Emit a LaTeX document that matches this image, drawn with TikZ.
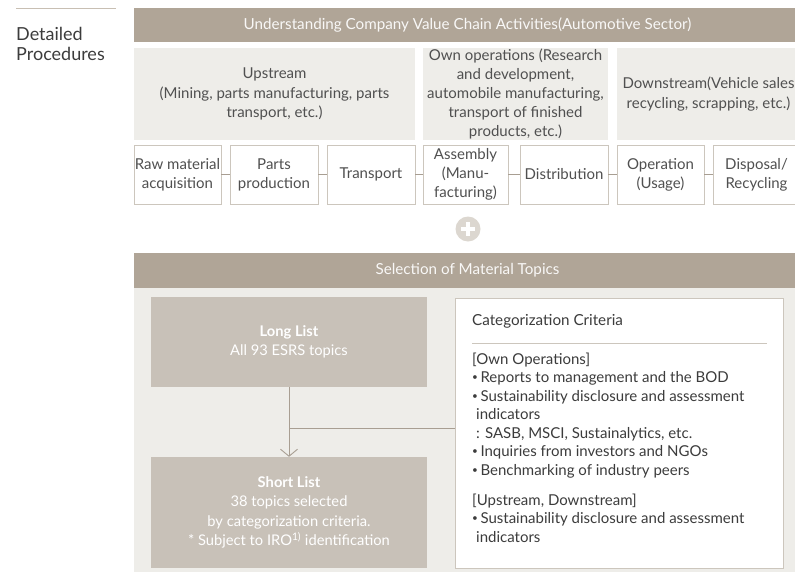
\documentclass[tikz,border=0pt]{standalone}
\usepackage{fontspec}
\setmainfont{Lato}
\usetikzlibrary{arrows.meta}
\definecolor{barc}{HTML}{B0A597}
\definecolor{lightbg}{HTML}{EEEDE9}
\definecolor{listc}{HTML}{C8C1B8}
\definecolor{bordc}{HTML}{CCC6BD}
\definecolor{txtc}{HTML}{505050}
\definecolor{darktxt}{HTML}{3C3C3C}
\definecolor{linec}{HTML}{A89E92}
\definecolor{plusc}{HTML}{DCD7D0}
\definecolor{barline}{HTML}{C8BFB3}
\newcommand{\bul}{\raisebox{2pt}{\fontsize{10}{10}\selectfont•}\kern2.5pt}
\begin{document}
\begin{tikzpicture}[x=1pt,y=-1pt,
  bar/.style={fill=barc, draw=none, inner sep=0pt, text=white!92!barc,
    font=\fontsize{15.2}{18}\selectfont},
  graybox/.style={fill=lightbg, draw=none, inner sep=0pt, text=txtc, align=center,
    font=\fontsize{15}{19.5}\selectfont},
  smallbox/.style={draw=bordc, fill=white, line width=0.9pt, inner sep=0pt, text=txtc,
    align=center, minimum height=59pt, font=\fontsize{15}{19}\selectfont},
  listbox/.style={fill=listc, draw=none, inner sep=0pt, text=white, align=center,
    minimum width=276pt, font=\fontsize{14.7}{19.3}\selectfont},
  link/.style={draw=linec, line width=0.9pt},
  txt/.style={inner sep=0pt, text=darktxt, align=left}
]
\useasboundingbox (0,0) rectangle (795,573);
\clip (0,0) rectangle (795,573);

% left heading
\coordinate (hl1) at (16,8.5);
\coordinate (hl2) at (116,8.5);
\draw[draw=barline, line width=1.2pt] (hl1) -- (hl2);
\node[txt, anchor=west, font=\fontsize{18}{20.5}\selectfont] (head) at (16,44) {Detailed\\Procedures};

% top bar
\node[bar, minimum width=667pt, minimum height=34pt] (title) at (467.5,25)
  {Understanding Company Value Chain Activities(Automotive Sector)};

% gray stages
\node[graybox, minimum width=281pt, minimum height=92pt] (up) at (274.5,94)
  {Upstream\\(Mining, parts manufacturing, parts\\transport, etc.)};
\node[graybox, minimum width=185pt, minimum height=92pt, font=\fontsize{15}{18.8}\selectfont] (own) at (515.5,94)
  {Own operations (Research\\and development,\\automobile manufacturing,\\transport of finished\\products, etc.)};
\node[graybox, minimum width=183pt, minimum height=92pt] (down) at (708.5,94)
  {Downstream(Vehicle sales\\recycling, scrapping, etc.)};

% small boxes
\node[smallbox, minimum width=87pt] (raw) at (177.5,174.5) {Raw material\\acquisition};
\node[smallbox, minimum width=88pt] (parts) at (274,174.5) {Parts\\production};
\node[smallbox, minimum width=88pt] (trans) at (371,174.5) {Transport};
\node[smallbox, minimum width=85pt] (asm) at (465.5,174.5) {Assembly\\(Manu-\\facturing)};
\node[smallbox, minimum width=88pt] (dist) at (564,174.5) {Distribution};
\node[smallbox, minimum width=87pt] (oper) at (660.5,174.5) {Operation\\(Usage)};
\node[smallbox, minimum width=87pt] (disp) at (756.5,174.5) {Disposal/\\Recycling};
\draw[link] (raw.east) -- (parts.west);
\draw[link] (parts.east) -- (trans.west);
\draw[link] (trans.east) -- (asm.west);
\draw[link] (asm.east) -- (dist.west);
\draw[link] (dist.east) -- (oper.west);
\draw[link] (oper.east) -- (disp.west);

% plus
\node[circle, fill=plusc, minimum size=25pt, inner sep=0pt] (plus) at (468,229) {};
\draw[white, line width=3.6pt] ([xshift=-7pt]plus.center) -- ([xshift=7pt]plus.center);
\draw[white, line width=3.6pt] ([yshift=-7pt]plus.center) -- ([yshift=7pt]plus.center);

% selection bar
\node[bar, minimum width=667pt, minimum height=35pt] (sel) at (467.5,270.5)
  {Selection of Material Topics};
\node[fill=lightbg, inner sep=0pt, minimum width=667pt, minimum height=284pt] (bg) at (467.5,430) {};

% lists
\node[listbox, minimum height=90pt] (long) at (289,342)
  {{\bfseries Long List}\\All 93 ESRS topics};
\node[listbox, minimum height=111pt] (short) at (289,512.5)
  {{\bfseries Short List}\\38 topics selected\\by categorization criteria.\\* Subject to IRO\textsuperscript{1)} identification};

% criteria box
\node[draw=bordc, fill=white, line width=0.9pt, minimum width=328pt, minimum height=270pt, inner sep=0pt] (crit) at (619,433) {};
\node[txt, anchor=west, font=\fontsize{15.2}{18.5}\selectfont] (ctitle) at (472,321) {Categorization Criteria};
\coordinate (s1) at (472,343);
\coordinate (s2) at (767,343);
\draw[draw=bordc, line width=0.8pt] (s1) -- (s2);
\node[txt, anchor=north west, font=\fontsize{15}{18.5}\selectfont] (cbody) at (472,352.5)
  {[Own Operations]\\
   \bul Reports to management and the BOD\\
   \bul Sustainability disclosure and assessment\\
   \hspace*{4pt}indicators\\
   \hspace*{4pt}: SASB, MSCI, Sustainalytics, etc.\\
   \bul Inquiries from investors and NGOs\\
   \bul Benchmarking of industry peers\\[11.5pt]
   [Upstream, Downstream]\\
   \bul Sustainability disclosure and assessment\\
   \hspace*{4pt}indicators};

% connectors
\draw[link, -{Straight Barb[length=7pt,width=17pt]}] (long.south) -- (short.north);
\coordinate (j) at (289,428);
\draw[link] (j) -- (j -| crit.west);
\end{tikzpicture}
\end{document}
